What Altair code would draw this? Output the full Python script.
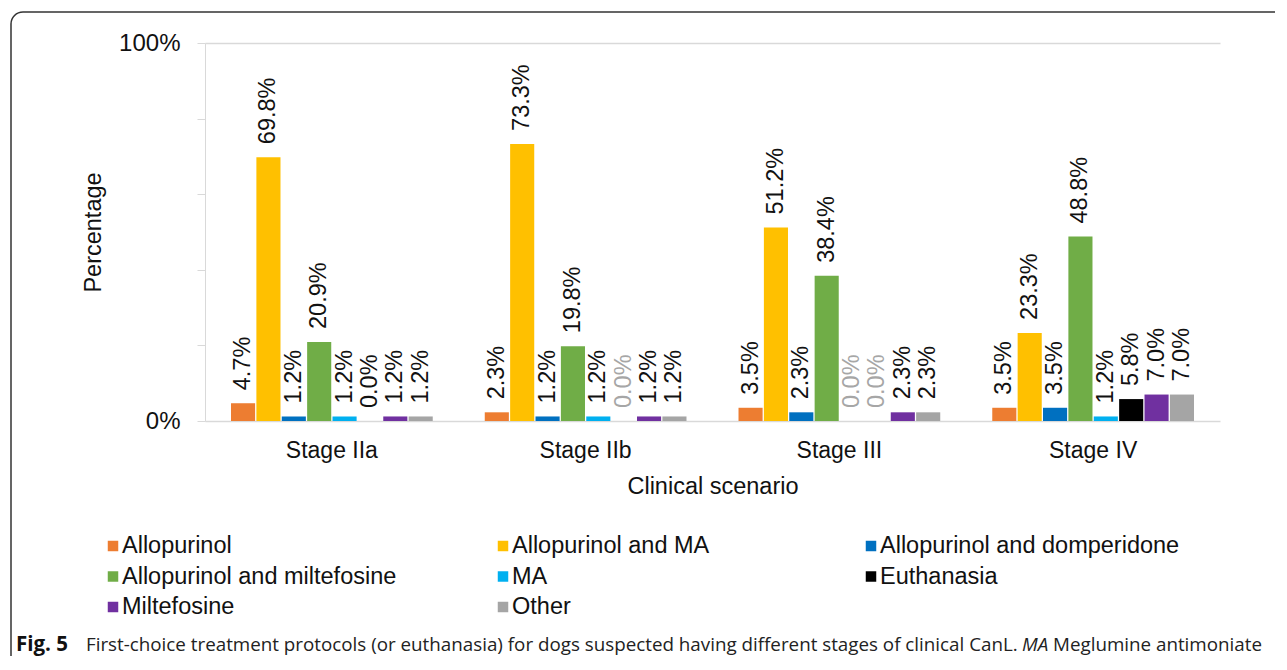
import altair as alt
import pandas as pd

stages = ["Stage IIa", "Stage IIb", "Stage III", "Stage IV"]
treatments = ["Allopurinol", "Allopurinol and MA", "Allopurinol and domperidone",
              "Allopurinol and miltefosine", "MA", "Euthanasia", "Miltefosine", "Other"]
colors = ["#ED7D31", "#FFC000", "#0070C0", "#70AD47", "#00B0F0", "#000000", "#7030A0", "#A5A5A5"]
values_IIa = [4.7, 69.8, 1.2, 20.9, 1.2, 0.0, 1.2, 1.2]
values_IIb = [2.3, 73.3, 1.2, 19.8, 1.2, 0.0, 1.2, 1.2]
values_III = [3.5, 51.2, 2.3, 38.4, 0.0, 0.0, 2.3, 2.3]
values_IV = [3.5, 23.3, 3.5, 48.8, 1.2, 5.8, 7.0, 7.0]
y_ticks = [0, 20, 40, 60, 80, 100]

caption_bold = "Fig. 5"
caption_main = "First-choice treatment protocols (or euthanasia) for dogs suspected having different stages of clinical CanL."
caption_italic = "MA"
caption_end = "Meglumine antimoniate"

rows = []
for s, vals in zip(stages, [values_IIa, values_IIb, values_III, values_IV]):
    for t, v in zip(treatments, vals):
        rows.append({"stage": s, "treatment": t, "value": v})
df = pd.DataFrame(rows)

leg_df = pd.DataFrame({
    "treatment": treatments,
    "col": [i % 3 for i in range(len(treatments))],
    "row": [i // 3 for i in range(len(treatments))],
})
one = pd.DataFrame({"k": [0]})

FONT = "Liberation Sans"
TXT = "#111111"
AX = "#d9d9d9"

color_scale = alt.Scale(domain=treatments, range=colors)

x = alt.X("stage:N", sort=stages,
          scale=alt.Scale(paddingInner=0.205, paddingOuter=0.1025),
          axis=alt.Axis(title="Clinical scenario", labelAngle=0, labelFontSize=23, titleFontSize=23.5,
                        labelFont=FONT, titleFont=FONT, labelColor=TXT, titleColor=TXT,
                        titleFontWeight="normal", labelPadding=18, titlePadding=12,
                        ticks=False, domainColor=AX, domainWidth=1.5))
xo = alt.XOffset("treatment:N", sort=treatments, scale=alt.Scale(paddingInner=0.05, paddingOuter=0))
y = alt.Y("value:Q", scale=alt.Scale(domain=[0, 100], nice=False),
          axis=alt.Axis(title="Percentage", values=y_ticks,
                        labelExpr="datum.value == 0 || datum.value == 100 ? datum.value + '%' : ''",
                        labelFontSize=24, titleFontSize=23.5, labelFont=FONT, titleFont=FONT,
                        labelColor=TXT, titleColor=TXT, titleFontWeight="normal",
                        tickSize=8, tickColor=AX, domainColor=AX, labelPadding=17, titlePadding=13,
                        grid=True, gridColor=AX, gridWidth=1.5,
                        gridOpacity={"condition": {"test": "datum.value === 100", "value": 1}, "value": 0}))

bars = alt.Chart(df).mark_bar().encode(
    x=x, xOffset=xo, y=y,
    color=alt.Color("treatment:N", scale=color_scale, legend=None),
)
labels = alt.Chart(df).transform_calculate(
    label="format(datum.value, '.1f') + '%'"
).mark_text(angle=270, align="left", baseline="middle", dx=13, fontSize=23.5, font=FONT).encode(
    x=x, xOffset=xo, y=y,
    text="label:N",
    color=alt.condition("datum.value == 0 && datum.stage != 'Stage IIa'", alt.value("#a6a6a6"), alt.value(TXT)),
)
plot = alt.layer(bars, labels)

lx = alt.X("col:Q", scale=alt.Scale(domain=[0, 1, 2], range=[-92, 298, 666], nice=False, zero=False), axis=None)
ly = alt.Y("row:Q", scale=alt.Scale(domain=[0, 2], range=[503, 564], nice=False, zero=False), axis=None)
leg_sq = alt.Chart(leg_df).mark_square(size=110, opacity=1).encode(
    x=lx, y=ly, color=alt.Color("treatment:N", scale=color_scale, legend=None))
leg_txt = alt.Chart(leg_df).mark_text(align="left", baseline="middle", dx=9, fontSize=23.5, font=FONT, color=TXT).encode(
    x=lx, y=ly, text="treatment:N")
legend = alt.layer(leg_sq, leg_txt)

CAP_FONT = "Open Sans"
cap_y = 602
cap1 = alt.Chart(one).mark_text(text=caption_bold, font=CAP_FONT, fontWeight="bold", fontSize=20.5,
                                align="left", baseline="middle", color=TXT).encode(
    x=alt.value(-189), y=alt.value(cap_y))
cap2 = alt.Chart(one).mark_text(text=caption_main, font=CAP_FONT, fontSize=18.8,
                                align="left", baseline="middle", color="#222222").encode(
    x=alt.value(-119), y=alt.value(cap_y))
cap3 = alt.Chart(one).mark_text(text=caption_italic, font=CAP_FONT, fontStyle="italic", fontSize=18.8,
                                align="left", baseline="middle", color="#222222").encode(
    x=alt.value(817), y=alt.value(cap_y))
cap4 = alt.Chart(one).mark_text(text=caption_end, font=CAP_FONT, fontSize=18.8,
                                align="left", baseline="middle", color="#222222").encode(
    x=alt.value(848), y=alt.value(cap_y))

border = alt.Chart(one).mark_rect(fill="white", fillOpacity=0, stroke="#333333", strokeWidth=1.5,
                                  cornerRadius=12).encode(
    x=alt.value(-194), x2=alt.value(1110), y=alt.value(-31), y2=alt.value(720))

chart = alt.layer(border, plot, legend, cap1, cap2, cap3, cap4).resolve_scale(
    x="independent", y="independent"
).properties(
    width=1015, height=378,
    padding={"left": 197, "top": 35, "right": 55, "bottom": 235},
    autosize=alt.AutoSizeParams(type="none"),
).configure_view(strokeWidth=0)

chart.save("out.html", embed_options={"renderer": "svg", "actions": False})
